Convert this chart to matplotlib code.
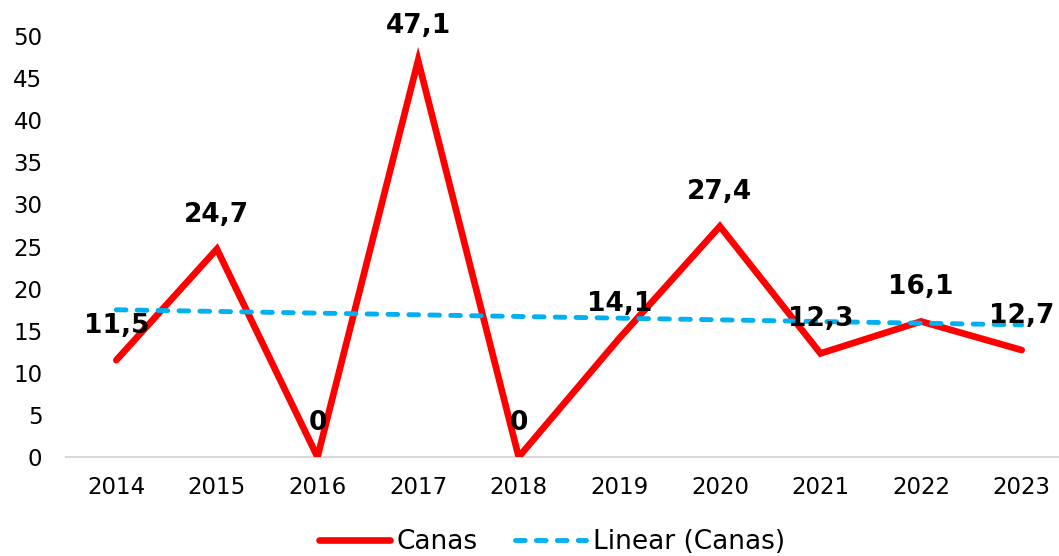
import numpy as np
import matplotlib
matplotlib.use("Agg")
import matplotlib.pyplot as plt

years = ["2014", "2015", "2016", "2017", "2018", "2019", "2020", "2021", "2022", "2023"]
canas = [11.5, 24.7, 0, 47.1, 0, 14.1, 27.4, 12.3, 16.1, 12.7]
yticks = [0, 5, 10, 15, 20, 25, 30, 35, 40, 45, 50]

plt.rcParams["font.family"] = ["DejaVu Sans"]

fig = plt.figure(figsize=(10.59, 5.56), dpi=100)
ax = fig.add_axes([66 / 1059, 1 - 457 / 556, 1006 / 1059, 421 / 556])

x = np.arange(len(years))
line, = ax.plot(x, canas, color="#FF0000", lw=4.8, solid_joinstyle="miter",
                solid_capstyle="round", label="Canas", zorder=3)

# linear trendline, like Excel's
coef = np.polyfit(x + 1, canas, 1)
trend = np.polyval(coef, x + 1)
tl, = ax.plot(x, trend, color="#00B0F0", lw=3.5, dash_capstyle="round",
              label="Linear (Canas)", zorder=4)
tl.set_dashes((2.0, 2.3))

for xi, v in zip(x, canas):
    txt = f"{v:.1f}".replace(".", ",") if v != 0 else "0"
    ax.annotate(txt, (xi, v), xytext=(0, 24.5), textcoords="offset points",
                ha="center", va="center", fontsize=19, fontweight="bold",
                color="black", zorder=5)

ax.set_xlim(-0.5, len(years) - 0.5)
ax.set_ylim(0, 50)
ax.set_xticks(x)
ax.set_xticklabels(years)
ax.set_yticks(yticks)
ax.tick_params(axis="both", length=0, labelsize=16.5)
ax.tick_params(axis="y", pad=17)
ax.tick_params(axis="x", pad=14)

for s in ["top", "right", "left"]:
    ax.spines[s].set_visible(False)
ax.spines["bottom"].set_color("#D9D9D9")
ax.spines["bottom"].set_linewidth(1.5)
ax.spines["bottom"].set_zorder(1)

fig.legend(handles=[line, tl], loc="center", bbox_to_anchor=(552 / 1059, 1 - 542 / 556),
           ncol=2, frameon=False, fontsize=19, handlelength=2.7, handletextpad=0.25,
           columnspacing=1.4, borderaxespad=0)

fig.savefig("out.png", dpi=100)
